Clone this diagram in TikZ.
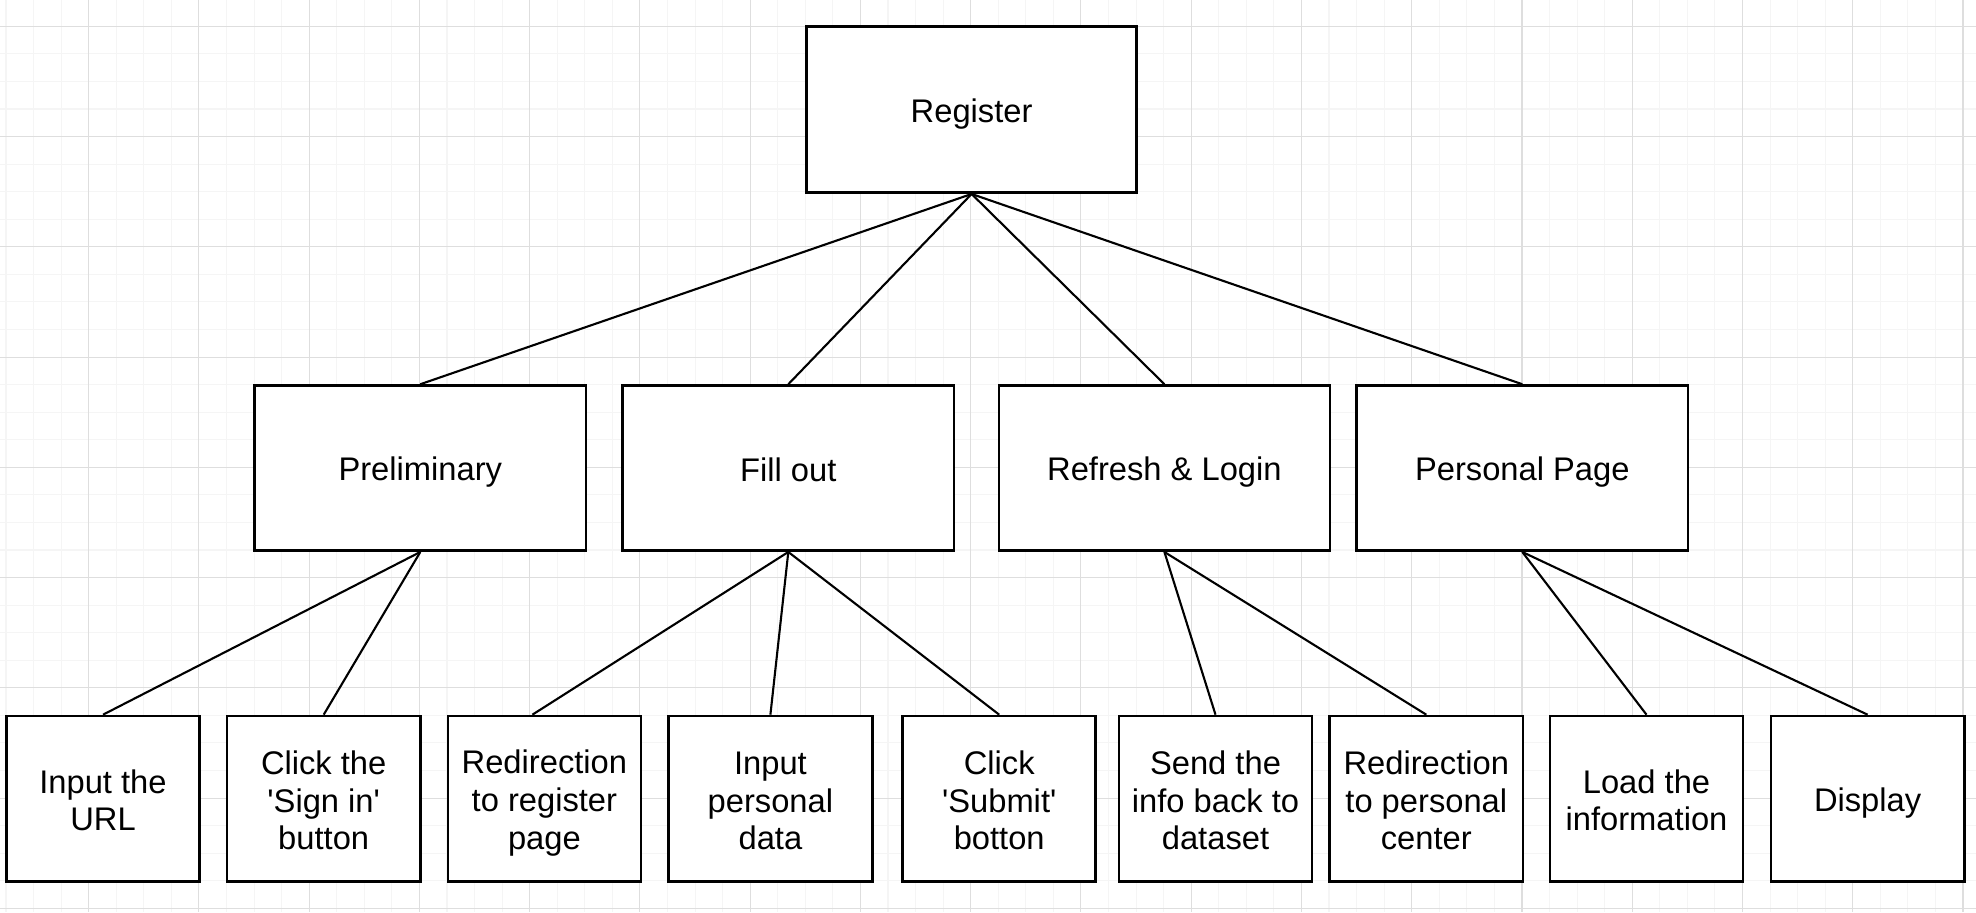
\documentclass[tikz,border=0pt]{standalone}
\usepackage{fontspec}
\setmainfont{Liberation Sans}
\usepackage{tikz}
\newcommand{\lnstrut}{\rule[-0.15\baselineskip]{0pt}{\baselineskip}}
\newcommand{\brk}{\lnstrut\\\lnstrut}
\newcommand{\q}{\textquotesingle}
\tikzset{every picture/.style={x=0.01cm,y=-0.01cm},
  box/.style={draw=black, line width=0.75pt, fill=white, align=center,
    minimum height=1.655cm, inner sep=0pt,
    font=\fontsize{9.3}{10.75}\selectfont,
    execute at begin node={\lineskiplimit=-20pt\relax\lnstrut}},
  topbox/.style={box, minimum width=3.30cm, minimum height=1.66cm},
  midbox/.style={box, minimum width=3.31cm, minimum height=1.65cm},
  leafbox/.style={box, minimum width=1.93cm},
  link/.style={draw=black, line width=0.6pt},
  minorgrid/.style={draw=black!4, line width=0.3pt},
  majorgrid/.style={draw=black!13, line width=0.3pt}}

\begin{document}
\begin{tikzpicture}
        \useasboundingbox (0,0) rectangle (1976,912);
        \fill[white] (0,0) rectangle (1976,912);

        % background grid
        \foreach \i in {0,...,71}
          \draw[minorgrid] ({6+27.5625*\i},0) -- ({6+27.5625*\i},912);
        \foreach \j in {0,...,32}
          \draw[minorgrid] (0,{26.3+27.5625*\j}) -- (1976,{26.3+27.5625*\j});
        \foreach \i in {0,...,17}
          \draw[majorgrid] ({88.7+110.25*\i},0) -- ({88.7+110.25*\i},912);
        \foreach \j in {0,...,8}
          \draw[majorgrid] (0,{26.3+110.25*\j}) -- (1976,{26.3+110.25*\j});

        \node[topbox] (reg) at (971.6, 109.6) {Register};

        \node[midbox] (pre) at (420.3, 468.1) {Preliminary};
        \node[midbox] (fil) at (788.3, 468.1) {Fill out};
        \node[midbox] (ref) at (1164.4, 468.1) {Refresh \& Login};
        \node[midbox] (per) at (1522.3, 468.1) {Personal Page};

        \node[leafbox] (url) at (103, 798.8) {Input the\brk URL};
        \node[leafbox] (sig) at (323.7, 798.8) {Click the\brk \q Sign in\q\brk button};
        \node[leafbox] (rdr) at (544.4, 798.8) {Redirection\brk to register\brk page};
        \node[leafbox, minimum width=2.04cm] (inp) at (770.4, 798.8) {Input\brk personal\brk data};
        \node[leafbox] (sub) at (999.2, 798.8) {Click\brk \q Submit\q\brk botton};
        \node[leafbox] (snd) at (1215.5, 798.8) {Send the\brk info back to\brk dataset};
        \node[leafbox] (rdp) at (1426.3, 798.8) {Redirection\brk to personal\brk center};
        \node[leafbox] (lod) at (1646.5, 798.8) {Load the\brk information};
        \node[leafbox] (dis) at (1867.6, 798.8) {Display};

        \coordinate (rdrin) at ([xshift=-0.12cm]rdr.north);

        \foreach \from/\to in {
          reg.south/pre.north, reg.south/fil.north, reg.south/ref.north, reg.south/per.north,
          pre.south/url.north, pre.south/sig.north,
          fil.south/rdrin, fil.south/inp.north, fil.south/sub.north,
          ref.south/snd.north, ref.south/rdp.north,
          per.south/lod.north, per.south/dis.north}
        \draw[link] (\from) -- (\to);
    \end{tikzpicture}
\end{document}
